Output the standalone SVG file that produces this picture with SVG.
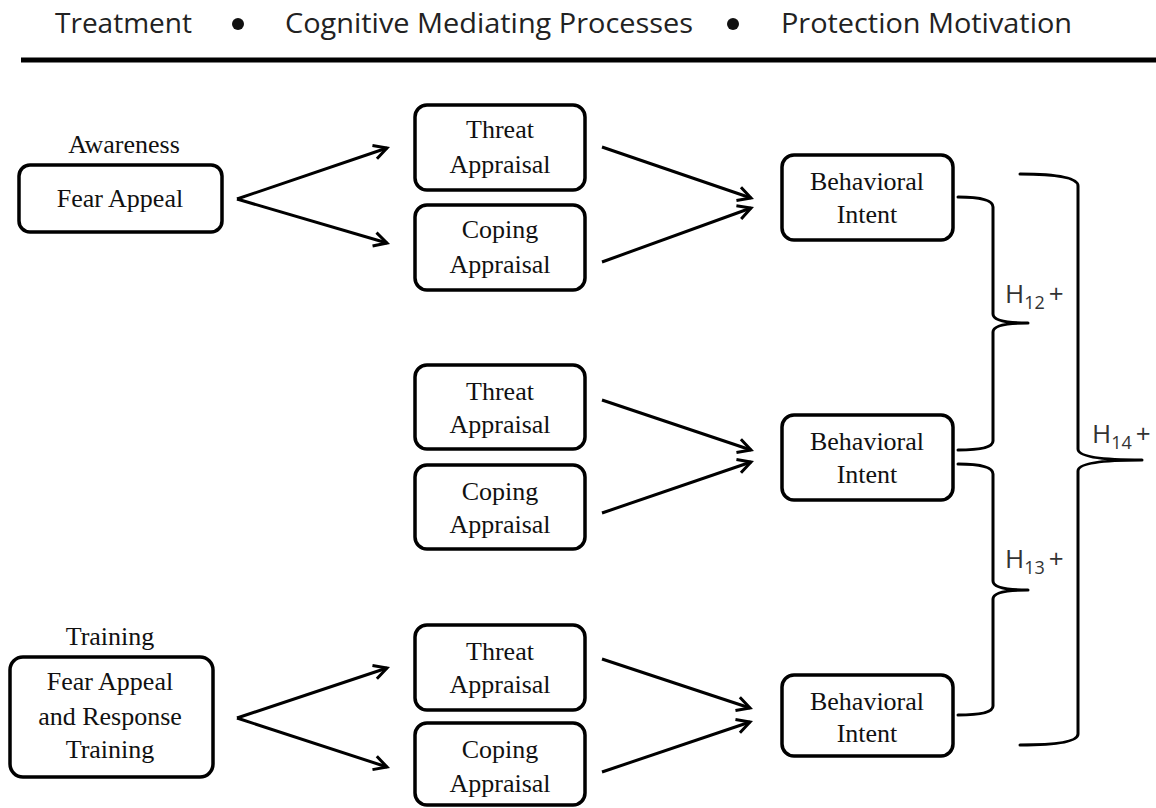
<svg xmlns="http://www.w3.org/2000/svg" width="1156" height="808" viewBox="0 0 1156 808">
  <style>
    .box { fill: #ffffff; stroke: #000000; stroke-width: 3.5; }
    .lbl { font-family: "Liberation Serif", "Times New Roman", serif; font-size: 26px; fill: #111111; text-anchor: middle; }
    .hdr { font-family: "Open Sans", "Liberation Sans", sans-serif; font-size: 28px; fill: #222222; }
    .hyp { font-family: "Open Sans", "Liberation Sans", sans-serif; font-size: 26px; fill: #333333; }
    .sub { font-size: 18px; }
    .conn { stroke: #000000; stroke-width: 3; fill: none; marker-end: url(#arrow); }
    .brace { stroke: #000000; stroke-width: 3; fill: none; stroke-linecap: round; stroke-linejoin: round; }
  </style>
  <defs>
    <marker id="arrow" markerUnits="userSpaceOnUse" viewBox="0 0 18 18" markerWidth="18" markerHeight="18" refX="15" refY="9" orient="auto">
      <path d="M2,2 L15,9 L2,16" fill="none" stroke="#000000" stroke-width="3" stroke-linejoin="miter"/>
    </marker>
    <filter id="soft" x="-5%" y="-200%" width="110%" height="500%">
      <feGaussianBlur stdDeviation="1.5"/>
    </filter>
  </defs>

  <rect width="1156" height="808" fill="#ffffff"/>

  <!-- header -->
  <g id="header">
    <text class="hdr" x="55" y="33" textLength="137" lengthAdjust="spacingAndGlyphs">Treatment</text>
    <circle cx="238" cy="24" r="6" fill="#111111"/>
    <text class="hdr" x="285" y="33" textLength="408" lengthAdjust="spacingAndGlyphs">Cognitive Mediating Processes</text>
    <circle cx="733" cy="24" r="6" fill="#111111"/>
    <text class="hdr" x="781" y="33" textLength="291" lengthAdjust="spacingAndGlyphs">Protection Motivation</text>
    <line x1="21" y1="64" x2="1156" y2="64" stroke="#888888" stroke-width="4" filter="url(#soft)"/>
    <line x1="21" y1="60" x2="1156" y2="60" stroke="#000000" stroke-width="5"/>
  </g>

  <!-- treatment nodes -->
  <g id="awareness">
    <text class="lbl" x="124" y="153">Awareness</text>
    <rect class="box" x="19" y="165" width="203" height="67" rx="11"/>
    <text class="lbl" x="120" y="207">Fear Appeal</text>
  </g>
  <g id="training">
    <text class="lbl" x="110" y="645">Training</text>
    <rect class="box" x="10" y="657" width="203" height="120" rx="13"/>
    <text class="lbl" x="110" y="690">Fear Appeal</text>
    <text class="lbl" x="110" y="725">and Response</text>
    <text class="lbl" x="110" y="758">Training</text>
  </g>

  <!-- cognitive mediating processes -->
  <g id="threat1">
    <rect class="box" x="415" y="105" width="170" height="85" rx="12"/>
    <text class="lbl" x="500" y="138">Threat</text>
    <text class="lbl" x="500" y="173">Appraisal</text>
  </g>
  <g id="coping1">
    <rect class="box" x="415" y="205" width="170" height="85" rx="12"/>
    <text class="lbl" x="500" y="238">Coping</text>
    <text class="lbl" x="500" y="273">Appraisal</text>
  </g>
  <g id="threat2">
    <rect class="box" x="415" y="365" width="170" height="84" rx="12"/>
    <text class="lbl" x="500" y="400">Threat</text>
    <text class="lbl" x="500" y="433">Appraisal</text>
  </g>
  <g id="coping2">
    <rect class="box" x="415" y="465" width="170" height="84" rx="12"/>
    <text class="lbl" x="500" y="500">Coping</text>
    <text class="lbl" x="500" y="533">Appraisal</text>
  </g>
  <g id="threat3">
    <rect class="box" x="415" y="625" width="170" height="85" rx="12"/>
    <text class="lbl" x="500" y="660">Threat</text>
    <text class="lbl" x="500" y="693">Appraisal</text>
  </g>
  <g id="coping3">
    <rect class="box" x="415" y="723" width="170" height="82" rx="12"/>
    <text class="lbl" x="500" y="758">Coping</text>
    <text class="lbl" x="500" y="792">Appraisal</text>
  </g>

  <!-- protection motivation -->
  <g id="intent1">
    <rect class="box" x="782" y="155" width="171" height="85" rx="12"/>
    <text class="lbl" x="867" y="190">Behavioral</text>
    <text class="lbl" x="867" y="223">Intent</text>
  </g>
  <g id="intent2">
    <rect class="box" x="782" y="415" width="171" height="85" rx="12"/>
    <text class="lbl" x="867" y="450">Behavioral</text>
    <text class="lbl" x="867" y="483">Intent</text>
  </g>
  <g id="intent3">
    <rect class="box" x="782" y="675" width="171" height="81" rx="12"/>
    <text class="lbl" x="867" y="710">Behavioral</text>
    <text class="lbl" x="867" y="742">Intent</text>
  </g>

  <!-- connectors -->
  <g id="connectors">
    <path class="conn" d="M237,199 L387,148"/>
    <path class="conn" d="M237,199 L387,243"/>
    <path class="conn" d="M237,718 L387,668"/>
    <path class="conn" d="M237,718 L387,767"/>

    <path class="conn" d="M602,147 L751,198"/>
    <path class="conn" d="M602,262 L751,208"/>
    <path class="conn" d="M602,400 L751,450"/>
    <path class="conn" d="M602,513 L751,462"/>
    <path class="conn" d="M602,659 L750,708"/>
    <path class="conn" d="M602,772 L750,722"/>
  </g>

  <!-- hypothesis braces -->
  <g id="h12">
    <path class="brace" d="M958,197 Q993,197 993,207 L993,314 Q993,323 1028,323 Q993,323 993,332 L993,441 Q993,450 958,450"/>
    <text class="hyp" x="1005" y="303">H<tspan class="sub" dy="6">12</tspan><tspan dx="4" dy="-6">+</tspan></text>
  </g>
  <g id="h13">
    <path class="brace" d="M958,464 Q993,464 993,474 L993,581 Q993,590 1028,590 Q993,590 993,599 L993,706 Q993,715 958,715"/>
    <text class="hyp" x="1005" y="568">H<tspan class="sub" dy="6">13</tspan><tspan dx="4" dy="-6">+</tspan></text>
  </g>
  <g id="h14">
    <path class="brace" d="M1020,174 Q1078,174 1078,186 L1078,449 Q1078,460 1142,460 Q1078,460 1078,471 L1078,734 Q1078,745 1020,745"/>
    <text class="hyp" x="1092" y="443">H<tspan class="sub" dy="6">14</tspan><tspan dx="4" dy="-6">+</tspan></text>
  </g>
</svg>
